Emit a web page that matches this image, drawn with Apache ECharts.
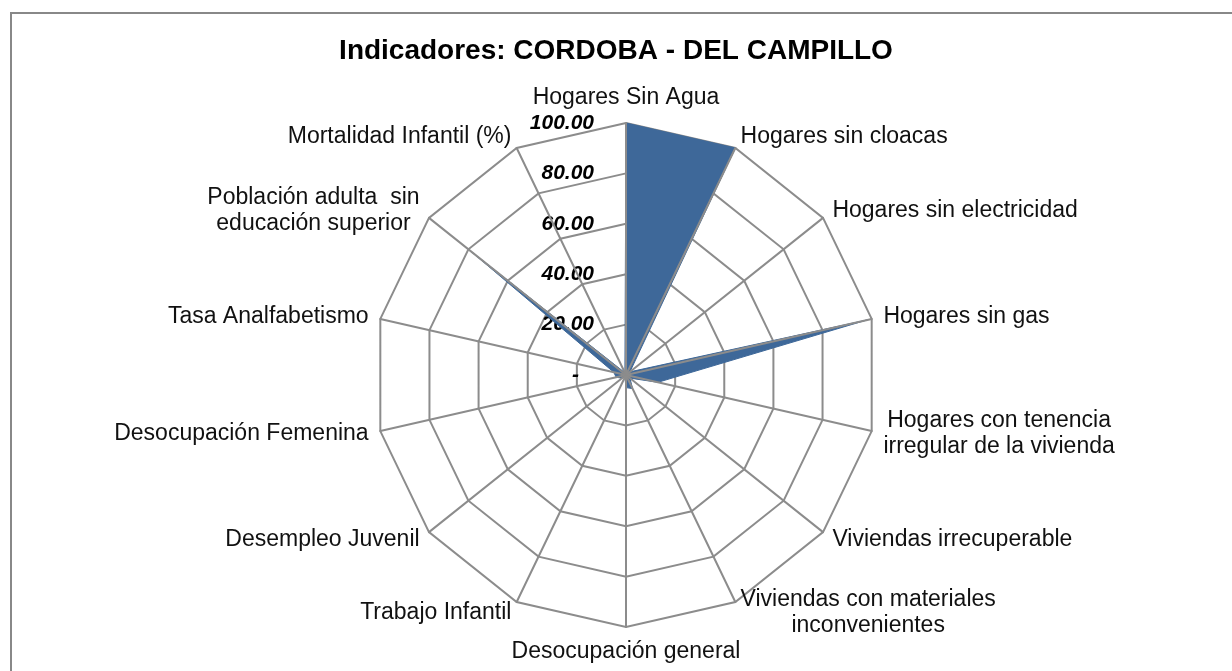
<!DOCTYPE html>
<html>
<head>
<meta charset="utf-8">
<script src="https://cdn.jsdelivr.net/npm/echarts@6/dist/echarts.min.js"></script>
<style>
  html, body { margin: 0; padding: 0; background: #fff; }
  #chart { width: 1232px; height: 671px; }
</style>
</head>
<body>
<div id="chart"></div>
<script>
// indicadores, en sentido horario desde arriba
const categories = [
  'Hogares Sin Agua',
  'Hogares sin cloacas',
  'Hogares sin electricidad',
  'Hogares sin gas',
  'Hogares con tenencia\nirregular de la vivienda',
  'Viviendas irrecuperable',
  'Viviendas con materiales\ninconvenientes',
  'Desocupación general',
  'Trabajo Infantil',
  'Desempleo Juvenil',
  'Desocupación Femenina',
  'Tasa Analfabetismo',
  'Población adulta  sin\neducación superior',
  'Mortalidad Infantil (%)'
]
const values = [100, 100, 2, 98, 13, 2, 6, 5, 1, 2, 4, 5, 80, 1]
const tickLabels = ['-', '20.00', '40.00', '60.00', '80.00', '100.00']

const axisMax = 100
const gridColor = '#8c8c8c'
const fontFamily = 'Liberation Sans, Arial'

// echarts pone los indicadores en sentido antihorario: invertir el orden
const order = [0].concat(categories.map((c, i) => i).slice(1).reverse())

const myChart = echarts.init(document.getElementById('chart'))

const indicator = order.map((i, k) => {
  const ind = { name: categories[i], max: axisMax, min: 0 }
  if (k === 0) {
    // etiquetas de la escala solo en el eje vertical
    ind.axisLabel = {
      show: true,
      color: '#000',
      fontSize: 21,
      fontWeight: 'bold',
      fontStyle: 'italic',
      fontFamily: fontFamily,
      margin: 32,
      formatter: (v) => {
        const idx = Math.round(v / 20)
        return idx === 0 ? '{z|' + tickLabels[0] + '}' : tickLabels[idx]
      },
      rich: {
        z: {
          fontSize: 21,
          fontWeight: 'bold',
          padding: [0, 15, 0, 0]
        }
      }
    }
  }
  return ind
})

const baseRadar = {
  center: [626, 375],
  radius: 252,
  startAngle: 90,
  shape: 'polygon',
  splitNumber: 5,
  indicator: indicator
}

const options = {
  backgroundColor: '#fff',
  title: {
    text: 'Indicadores: CORDOBA - DEL CAMPILLO',
    left: 'center',
    top: 32,
    textStyle: {
      color: '#000',
      fontSize: 28,
      fontWeight: 'bold',
      fontFamily: fontFamily
    }
  },
  graphic: [
    {
      type: 'rect',
      shape: { x: 11, y: 13, width: 1240, height: 700 },
      style: { fill: 'none', stroke: '#888', lineWidth: 2 },
      silent: true
    }
  ],
  radar: [
    // anillos (debajo del área)
    Object.assign({}, baseRadar, {
      z: 1,
      axisName: {
        color: '#111',
        fontSize: 23,
        fontFamily: fontFamily,
        lineHeight: 26,
        // cada línea centrada dentro del bloque
        formatter: (name) => name.split('\n').map((l) => '{c|' + l + '}').join('\n'),
        rich: {
          c: {
            align: 'center',
            color: '#111',
            fontSize: 23,
            lineHeight: 26,
            fontFamily: fontFamily
          }
        }
      },
      nameGap: 12,
      axisLine: { show: false },
      axisTick: { show: false },
      axisLabel: { show: false },
      splitArea: { show: false },
      splitLine: { lineStyle: { color: gridColor, width: 2 } }
    }),
    // radios (encima del área)
    Object.assign({}, baseRadar, {
      z: 3,
      indicator: order.map((i) => ({ name: '', max: axisMax, min: 0 })),
      axisName: { show: false },
      axisLine: { lineStyle: { color: gridColor, width: 2 } },
      axisTick: { show: false },
      axisLabel: { show: false },
      splitArea: { show: false },
      splitLine: { show: false }
    })
  ],
  series: [
    {
      type: 'radar',
      radarIndex: 0,
      z: 2,
      symbol: 'none',
      lineStyle: { width: 1, color: '#3e6899' },
      areaStyle: { color: '#3e6899', opacity: 1 },
      data: [{ value: order.map((i) => values[i]), name: 'CORDOBA - DEL CAMPILLO' }]
    }
  ]
}
myChart.setOption(options)
</script>
</body>
</html>
